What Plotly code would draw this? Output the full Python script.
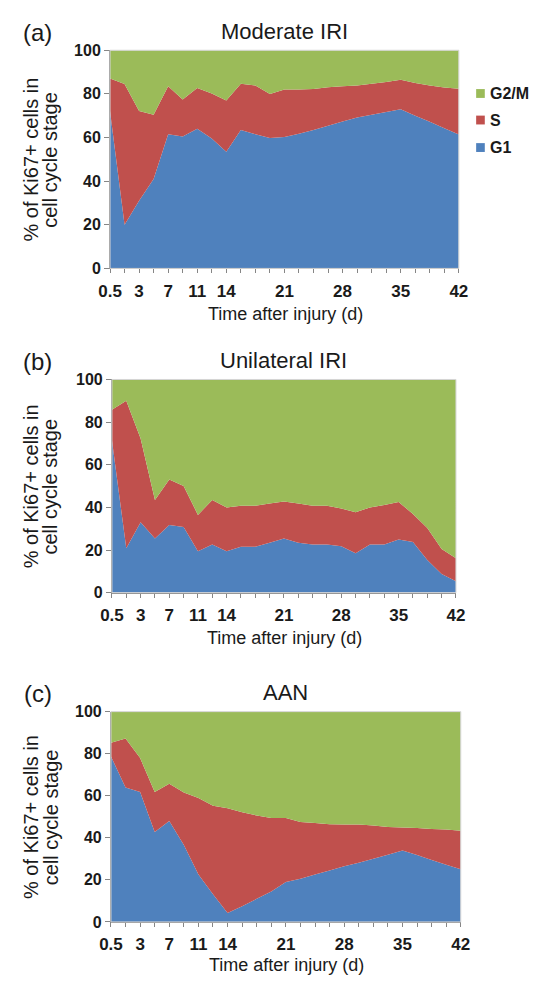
import plotly.graph_objects as go

W, H = 538, 984

# ---------------- data ----------------
time_index = list(range(25))
tick_labels = ["0.5", "", "3", "", "7", "", "11", "", "14", "", "", "", "21", "", "", "",
               "28", "", "", "", "35", "", "", "", "42"]
y_ticks = [0, 20, 40, 60, 80, 100]
stage_names = ["G1", "S", "G2/M"]
stage_colors = ["#4F81BD", "#C0504D", "#9BBB59"]

# (a) Moderate IRI
g1_a = [72, 20, 31, 41, 61.5, 60.5, 64, 59.5, 53.5, 63.5, 61.5, 59.8, 60.2, 61.7, 63.5,
        65.4, 67.4, 69.2, 70.4, 71.7, 73, 70, 67.2, 64.2, 61.4]
s_a = [15, 64.5, 41.2, 29.4, 22, 16.9, 18.7, 20.7, 23.5, 21.2, 22.3, 20.2, 21.8, 20.3, 18.8,
       17.6, 16.1, 14.7, 14.3, 13.7, 13.5, 15, 16.7, 18.7, 21]
g2m_a = [13, 15.5, 27.8, 29.6, 16.5, 22.6, 17.3, 19.8, 23, 15.3, 16.2, 20, 18, 18, 17.7,
         17, 16.5, 16.1, 15.3, 14.6, 13.5, 15, 16.1, 17.1, 17.6]

# (b) Unilateral IRI
g1_b = [71.5, 20.8, 33.1, 25.4, 31.8, 30.8, 19.5, 22.6, 19.5, 21.5, 21.5, 23.4, 25.4, 23.4,
        22.6, 22.6, 21.8, 18.5, 22.6, 22.6, 24.9, 23.8, 15.4, 8.8, 5.4]
s_b = [14.3, 69.2, 39.2, 18.1, 21.3, 19.2, 17, 20.9, 20.5, 19.3, 19.3, 18.4, 17.4, 18.4,
       18.2, 18.2, 17.7, 19.2, 17.4, 18.5, 17.7, 13.1, 14.9, 11.7, 10.8]
g2m_b = [14.2, 10, 27.7, 56.5, 46.9, 50, 63.5, 56.5, 60, 59.2, 59.2, 58.2, 57.2, 58.2,
         59.2, 59.2, 60.5, 62.3, 60, 58.9, 57.4, 63.1, 69.7, 79.5, 83.8]

# (c) AAN
g1_c = [78.7, 63.9, 61.8, 42.8, 48, 36.6, 22.6, 13.2, 4.2, 7.5, 11, 14.5, 19, 20.5, 22.5,
        24.5, 26.5, 28.2, 30, 32, 34, 31.8, 29.5, 27.2, 25]
s_c = [6.5, 23.3, 16.1, 19, 17.7, 24.9, 36.3, 42.1, 49.8, 44.7, 39.6, 34.9, 30.4, 27, 24.5,
       21.9, 19.8, 18.1, 15.8, 13.2, 10.9, 12.9, 14.7, 16.7, 18.3]
g2m_c = [14.8, 12.8, 22.1, 38.2, 34.3, 38.5, 41.1, 44.7, 46, 47.8, 49.4, 50.6, 50.6, 52.5,
         53, 53.6, 53.7, 53.7, 54.2, 54.8, 55.1, 55.3, 55.8, 56.1, 56.7]

panel_titles = ["Moderate IRI", "Unilateral IRI", "AAN"]
panel_letters = ["(a)", "(b)", "(c)"]
x_title = "Time after injury (d)"
y_title_lines = ["% of Ki67+ cells in", "cell cycle stage"]

panels = [(g1_a, s_a, g2m_a), (g1_b, s_b, g2m_b), (g1_c, s_c, g2m_c)]

# ---------------- layout geometry (pixels) ----------------
plot_boxes = [  # left, right, top, bottom
    (102, 465, 43, 265),
    (104, 462, 378, 595),
    (103, 467, 716, 930),
]
x_title_offsets = [46, 46, 43.5]

def px(x):
    return x / W

def py(y):
    return 1 - y / H

FONT = "Liberation Sans, Arial, sans-serif"
AXIS_GRAY = "#868686"
TEXT = "#1a1a1a"

fig = go.Figure()
layout = dict(
    width=W, height=H,
    margin=dict(l=0, r=0, t=0, b=0),
    paper_bgcolor="white", plot_bgcolor="white",
    showlegend=False,
    font=dict(family=FONT, color="black"),
)
annotations = []
shapes = []

for p, (vals, box) in enumerate(zip(panels, plot_boxes)):
    sfx = "" if p == 0 else str(p + 1)
    xa, ya = "x" + sfx, "y" + sfx
    for name, color, v in zip(stage_names, stage_colors, vals):
        fig.add_trace(go.Scatter(
            x=time_index, y=v, name=name, mode="none",
            stackgroup="stack%d" % p, fillcolor=color,
            line=dict(width=0), xaxis=xa, yaxis=ya, showlegend=False,
        ))
    l, r, t, b = box
    layout["xaxis" + sfx] = dict(
        domain=[px(l), px(r)], anchor=ya, range=[0, 24],
        tickmode="array", tickvals=time_index, ticktext=tick_labels,
        ticks="outside", ticklen=4, tickcolor=AXIS_GRAY, tickwidth=1,
        showline=True, linecolor=AXIS_GRAY, linewidth=1,
        showgrid=False, zeroline=False,
        tickfont=dict(family=FONT, size=17, weight="bold", color=TEXT),
        ticklabelstandoff=3,
    )
    layout["yaxis" + sfx] = dict(
        domain=[py(b), py(t)], anchor=xa, range=[0, 100],
        tickmode="array", tickvals=y_ticks,
        ticks="outside", ticklen=5, tickcolor=AXIS_GRAY, tickwidth=1,
        showline=True, linecolor=AXIS_GRAY, linewidth=1,
        showgrid=False, zeroline=False,
        tickfont=dict(family=FONT, size=16, weight="bold", color=TEXT),
    )
    shapes.append(dict(type="rect", xref=xa + " domain", yref=ya + " domain",
                       x0=0, x1=1, y0=0, y1=1, line=dict(color="#D4D4D4", width=1),
                       layer="above"))
    cx = (l + r) / 2
    cy = (t + b) / 2
    annotations.append(dict(text=panel_titles[p], x=px(cx), y=py(t - 19), xref="paper", yref="paper",
                            showarrow=False, xanchor="center", yanchor="middle",
                            font=dict(family=FONT, size=22, color=TEXT)))
    annotations.append(dict(text=panel_letters[p], x=px(27), y=py(t - 18), xref="paper", yref="paper",
                            showarrow=False, xanchor="center", yanchor="middle",
                            font=dict(family=FONT, size=24, color=TEXT)))
    annotations.append(dict(text=x_title, x=px(cx + 1), y=py(b + x_title_offsets[p]),
                            xref="paper", yref="paper",
                            showarrow=False, xanchor="center", yanchor="middle",
                            font=dict(family=FONT, size=18, color=TEXT)))
    for k, line in enumerate(y_title_lines):
        annotations.append(dict(text=line, x=px(20 + 20 * k), y=py(cy), xref="paper", yref="paper",
                                showarrow=False, xanchor="center", yanchor="middle", textangle=-90,
                                font=dict(family=FONT, size=20, color=TEXT)))

# legend key (panel a): G2/M, S, G1 from the top
legend_y = [87, 114, 142]
for name, color, yy in zip(stage_names[::-1], stage_colors[::-1], legend_y):
    shapes.append(dict(type="rect", xref="paper", yref="paper",
                       x0=px(483), x1=px(492), y0=py(yy + 4.5), y1=py(yy - 4.5),
                       fillcolor=color, line=dict(width=0)))
    annotations.append(dict(text=name, x=px(495), y=py(yy), xref="paper", yref="paper",
                            showarrow=False, xanchor="left", yanchor="middle",
                            font=dict(family=FONT, size=16, weight="bold", color=TEXT)))

layout["annotations"] = annotations
layout["shapes"] = shapes
fig.update_layout(**layout)
fig.write_html("out.html",
               config={"displayModeBar": False},
               post_script="document.body.style.margin='0';document.body.style.overflow='hidden';")
